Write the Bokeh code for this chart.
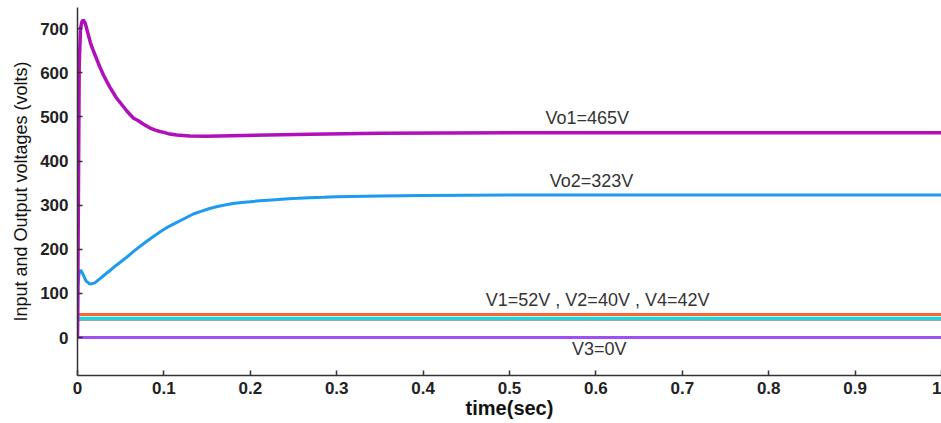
from bokeh.plotting import figure
from bokeh.models import Range1d, FixedTicker, Label
from bokeh.embed import file_html
from bokeh.resources import INLINE

# ---- data ----
t_vo1 = [0, 0.001, 0.002, 0.0035, 0.005, 0.0067, 0.009, 0.012, 0.015, 0.0183, 0.021,
         0.025, 0.03, 0.034, 0.0376, 0.041, 0.045, 0.05, 0.0569, 0.061, 0.065, 0.07,
         0.076, 0.085, 0.09, 0.0954, 0.1, 0.105, 0.1147, 0.13,
         0.149, 0.192, 0.269, 0.35, 0.5, 0.7, 1.0]
vo1 = [0, 300, 620, 700, 715, 720, 712, 690, 668, 650, 637,
       617, 595, 580, 567, 556, 543, 531, 514, 505, 497, 492,
       484, 474, 470, 467, 465, 462, 459, 457,
       456, 458, 461, 463, 464, 464, 464]

t_vo2 = [0, 0.0005, 0.002, 0.0037, 0.006, 0.01, 0.0145, 0.02, 0.025, 0.03, 0.0376,
         0.045, 0.0569, 0.066, 0.076, 0.085, 0.0954, 0.105, 0.115, 0.125, 0.134,
         0.143, 0.152, 0.162, 0.172, 0.18, 0.19, 0.211, 0.225, 0.24, 0.255, 0.269,
         0.285, 0.3, 0.35, 0.4, 0.5, 0.7, 1.0]
vo2 = [0, 120, 148, 153, 145, 128, 121, 124, 132, 140, 152,
       164, 182, 197, 212, 225, 239, 251, 261, 271, 280,
       286, 292, 297, 301, 304, 306, 310, 312, 314, 315.5, 317,
       318, 319, 321, 322, 323, 323, 323]

t_dc = [0, 1.0]
v1 = [52, 52]
v2 = [40, 40]
v4 = [44, 44]
v3 = [0, 0]

x_ticks = [0, 0.1, 0.2, 0.3, 0.4, 0.5, 0.6, 0.7, 0.8, 0.9, 1.0]
x_tick_labels = ["0", "0.1", "0.2", "0.3", "0.4", "0.5", "0.6", "0.7", "0.8", "0.9", "1"]
y_ticks = [0, 100, 200, 300, 400, 500, 600, 700]

ann_text = ["Vo1=465V", "Vo2=323V", "V1=52V , V2=40V , V4=42V", "V3=0V"]
ann_x = [0.590, 0.595, 0.602, 0.604]
ann_y = [476, 333, 63, -48]

# ---- figure ----
p = figure(width=941, height=423, output_backend="svg", toolbar_location=None,
           x_range=Range1d(0, 1.0), y_range=Range1d(-86, 748),
           min_border_left=77, min_border_right=0, min_border_top=7,
           min_border_bottom=48)
p.outline_line_color = None
p.grid.visible = False
p.background_fill_color = "white"
p.border_fill_color = "white"

FONT = "Liberation Sans"

for ax in (p.xaxis[0], p.yaxis[0]):
    ax.axis_line_color = "#333333"
    ax.axis_line_width = 1.5
    ax.major_tick_line_color = "#333333"
    ax.major_tick_line_width = 1.5
    ax.major_tick_in = 5
    ax.major_tick_out = 0
    ax.minor_tick_line_color = None
    ax.major_label_text_font = FONT
    ax.major_label_text_font_style = "bold"
    ax.major_label_text_font_size = "17px"
    ax.major_label_text_color = "#222222"
    ax.axis_label_text_font = FONT
    ax.axis_label_text_color = "#111111"

p.xaxis.ticker = FixedTicker(ticks=x_ticks)
p.xaxis.major_label_overrides = {t: s for t, s in zip(x_ticks, x_tick_labels)}
p.xaxis.major_label_standoff = 6
p.xaxis.axis_label = "time(sec)"
p.xaxis.axis_label_text_font_style = "bold"
p.xaxis.axis_label_text_font_size = "20px"
p.xaxis.axis_label_standoff = 0

p.yaxis.ticker = FixedTicker(ticks=y_ticks)
p.yaxis.major_label_standoff = 9
p.yaxis.axis_label = "Input and Output voltages (volts)"
p.yaxis.axis_label_text_font_style = "normal"
p.yaxis.axis_label_text_font_size = "18px"
p.yaxis.axis_label_standoff = 6

# ---- lines ----
p.line(t_dc, v3, line_color="#a050f0", line_width=3)
p.line(t_dc, v2, line_color="#7a8690", line_width=1.5)
p.line(t_dc, v4, line_color="#18dada", line_width=3)
p.line(t_dc, v1, line_color="#ff6432", line_width=3)
p.line(t_vo2, vo2, line_color="#1e9af0", line_width=3)
p.line(t_vo1, vo1, line_color="#b010bc", line_width=3.5)

for txt, x, y in zip(ann_text, ann_x, ann_y):
    p.add_layout(Label(x=x, y=y, text=txt, text_align="center", text_baseline="bottom",
                       text_font=FONT, text_font_size="18px", text_color="#333333"))

html = file_html(p, INLINE)
open("out.html", "w").write(html)
